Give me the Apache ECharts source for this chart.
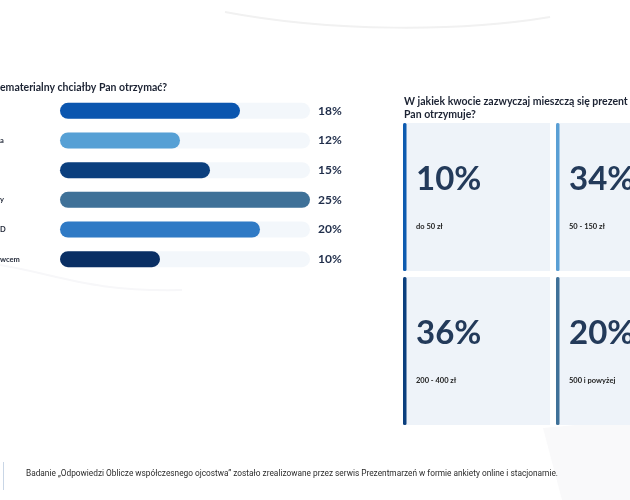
<!DOCTYPE html>
<html>
<head>
<meta charset="utf-8">
<script src="https://cdn.jsdelivr.net/npm/echarts@6/dist/echarts.min.js"></script>
<style>html,body{margin:0;padding:0;background:#fff;}#c{width:630px;height:500px;}</style>
</head>
<body>
<div id="c"></div>
<script>
// Left chart data
const barCategories = ['', 'a', '', 'y', 'D', 'wcem'];
const barValues = [18, 12, 15, 25, 20, 10];
const barColors = ['#0b56af', '#56a0d5', '#0b3f7e', '#3f7198', '#2f7ac5', '#0a2f64'];
const barMax = 25;
const leftTitle = 'ematerialny chciałby Pan otrzymać?';

// Right cards data
const cardValues = [10, 34, 36, 20];
const cardLabels = ['do 50 zł', '50 - 150 zł', '200 - 400 zł', '500 i powyżej'];
const cardColors = ['#0d5bb0', '#5a9fd4', '#0b3f7e', '#3f7198'];
const cardCols = ['c0', 'c1'];
const cardRows = ['r0', 'r1'];
const rightTitle = 'W jakiek kwocie zazwyczaj mieszczą się prezent\nPan otrzymuje?';

const footer = 'Badanie „Odpowiedzi Oblicze współczesnego ojcostwa” zostało zrealizowane przez serwis Prezentmarzeń w formie ankiety online i stacjonarnie.';

const FONT = 'Lato';
const chart = echarts.init(document.getElementById('c'), null, {renderer: 'canvas'});

const cardData = cardValues.map((v, i) => [i % 2, Math.floor(i / 2), v, i]);

chart.setOption({
  animation: false,
  backgroundColor: '#ffffff',
  textStyle: {fontFamily: FONT},
  graphic: [
    {type: 'polygon', z: -10, shape: {points: [[543, 428], [630, 420], [630, 500], [562, 500]]}, style: {fill: '#f9f9fa'}},
    {type: 'bezierCurve', shape: {x1: 225, y1: 12, cpx1: 330, cpy1: 32, cpx2: 460, cpy2: 32, x2: 550, y2: 17},
      style: {stroke: '#f1f1f1', lineWidth: 2, fill: null}},
    {type: 'bezierCurve', shape: {x1: 0, y1: 265, cpx1: 60, cpy1: 275, cpx2: 90, cpy2: 292, x2: 182, y2: 290},
      style: {stroke: '#f7f7f9', lineWidth: 2, fill: null}},
    {type: 'text', left: 0, top: 82, style: {text: leftTitle, font: 'bold 10.5px Lato', fill: '#1c2333'}},
    {type: 'text', left: 404, top: 95, style: {text: rightTitle, font: 'bold 10.5px Lato', fill: '#1c2333', lineHeight: 13}},
    {type: 'rect', shape: {x: 3, y: 462, width: 1, height: 28}, style: {fill: '#c9d6e6'}},
    {type: 'text', left: 26, top: 470, style: {text: footer, font: '8.3px Roboto', fill: '#2b2b2b'}}
  ],
  grid: [
    {left: 60, top: 96, width: 250, height: 178, outerBoundsMode: 'none', containLabel: false},
    {left: 403, top: 123, width: 306, height: 308, outerBoundsMode: 'none', containLabel: false}
  ],
  xAxis: [
    {gridIndex: 0, type: 'value', min: 0, max: barMax, show: false},
    {gridIndex: 1, type: 'category', data: cardCols, show: false}
  ],
  yAxis: [
    {gridIndex: 0, type: 'category', data: barCategories, inverse: true,
      axisLine: {show: false}, axisTick: {show: false},
      axisLabel: {align: 'left', margin: 60, fontSize: 7.5, fontWeight: 'bold', color: '#1c2333', fontFamily: FONT}},
    {gridIndex: 1, type: 'category', data: cardRows, inverse: true, show: false}
  ],
  series: [
    {type: 'bar', xAxisIndex: 0, yAxisIndex: 0, barWidth: 16, barGap: '-100%',
      data: barValues.map(() => barMax), silent: true,
      itemStyle: {color: '#f3f7fb', borderRadius: 8},
      label: {show: true, position: 'right', distance: 8,
        formatter: p => barValues[p.dataIndex] + '%',
        fontSize: 12, fontWeight: 'bold', color: '#1f2d4a', fontFamily: FONT}},
    {type: 'bar', xAxisIndex: 0, yAxisIndex: 0, barWidth: 16,
      data: barValues.map((v, i) => ({value: v, itemStyle: {color: barColors[i]}})),
      itemStyle: {borderRadius: 8}},
    {type: 'custom', xAxisIndex: 1, yAxisIndex: 1, data: cardData,
      renderItem: function (params, api) {
        const c = api.coord([api.value(0), api.value(1)]);
        const s = api.size([1, 1]);
        const x = c[0] - s[0] / 2, y = c[1] - s[1] / 2;
        const w = s[0] - 6, h = s[1] - 6;
        const i = api.value(3);
        return {type: 'group', children: [
          {type: 'rect', shape: {x: x, y: y, width: w, height: h}, style: {fill: '#eef3f9'}},
          {type: 'rect', shape: {x: x, y: y, width: 3.5, height: h, r: 1.5}, style: {fill: cardColors[i]}},
          {type: 'text', x: x + 13, y: y + 56, style: {text: api.value(2) + '%', font: 'bold 33px Lato', fill: '#233a5a', verticalAlign: 'middle'}},
          {type: 'text', x: x + 13, y: y + 104, style: {text: cardLabels[i], font: 'bold 7.5px Lato', fill: '#222', verticalAlign: 'middle'}}
        ]};
      }}
  ]
});
</script>
</body>
</html>
